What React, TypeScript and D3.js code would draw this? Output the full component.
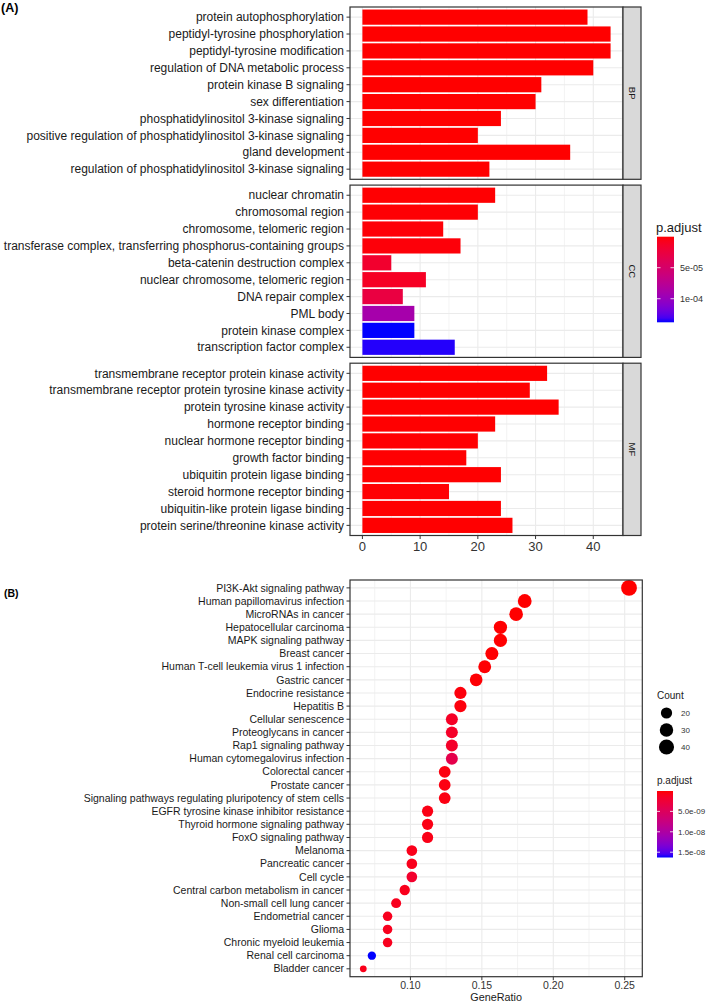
import React from "react";
import * as d3 from "d3";

const FONT = "'Liberation Sans', Arial, Helvetica, sans-serif";

// ---------- Panel A data ----------
const bpTerms = [
  "protein autophosphorylation",
  "peptidyl-tyrosine phosphorylation",
  "peptidyl-tyrosine modification",
  "regulation of DNA metabolic process",
  "protein kinase B signaling",
  "sex differentiation",
  "phosphatidylinositol 3-kinase signaling",
  "positive regulation of phosphatidylinositol 3-kinase signaling",
  "gland development",
  "regulation of phosphatidylinositol 3-kinase signaling",
];
const bpCounts = [39, 43, 43, 40, 31, 30, 24, 20, 36, 22];
const bpPadj = [2e-9, 1e-10, 1e-10, 3e-9, 5e-9, 6e-9, 8e-9, 1e-8, 7e-9, 1.2e-8];

const ccTerms = [
  "nuclear chromatin",
  "chromosomal region",
  "chromosome, telomeric region",
  "transferase complex, transferring phosphorus-containing groups",
  "beta-catenin destruction complex",
  "nuclear chromosome, telomeric region",
  "DNA repair complex",
  "PML body",
  "protein kinase complex",
  "transcription factor complex",
];
const ccCounts = [23, 20, 14, 17, 5, 11, 7, 9, 9, 16];
const ccPadj = [5e-7, 9e-7, 1.5e-6, 2e-6, 1.6e-5, 1.1e-5, 2.6e-5, 9e-5, 1.38e-4, 1.36e-4];

const mfTerms = [
  "transmembrane receptor protein kinase activity",
  "transmembrane receptor protein tyrosine kinase activity",
  "protein tyrosine kinase activity",
  "hormone receptor binding",
  "nuclear hormone receptor binding",
  "growth factor binding",
  "ubiquitin protein ligase binding",
  "steroid hormone receptor binding",
  "ubiquitin-like protein ligase binding",
  "protein serine/threonine kinase activity",
];
const mfCounts = [32, 29, 34, 23, 20, 18, 24, 15, 24, 26];
const mfPadj = [2e-8, 4e-8, 1e-8, 3e-7, 4e-7, 5e-7, 3e-7, 6e-7, 3e-7, 2e-7];

const facetNames = ["BP", "CC", "MF"];
const topXTicks = [0, 10, 20, 30, 40];
const topXMinor = [5, 15, 25, 35, 45];
const topLegendTicks = [5e-5, 1e-4];
const topLegendLabels = ["5e-05", "1e-04"];

// ---------- Panel B data ----------
const keggTerms = [
  "PI3K-Akt signaling pathway",
  "Human papillomavirus infection",
  "MicroRNAs in cancer",
  "Hepatocellular carcinoma",
  "MAPK signaling pathway",
  "Breast cancer",
  "Human T-cell leukemia virus 1 infection",
  "Gastric cancer",
  "Endocrine resistance",
  "Hepatitis B",
  "Cellular senescence",
  "Proteoglycans in cancer",
  "Rap1 signaling pathway",
  "Human cytomegalovirus infection",
  "Colorectal cancer",
  "Prostate cancer",
  "Signaling pathways regulating pluripotency of stem cells",
  "EGFR tyrosine kinase inhibitor resistance",
  "Thyroid hormone signaling pathway",
  "FoxO signaling pathway",
  "Melanoma",
  "Pancreatic cancer",
  "Cell cycle",
  "Central carbon metabolism in cancer",
  "Non-small cell lung cancer",
  "Endometrial cancer",
  "Glioma",
  "Chronic myeloid leukemia",
  "Renal cell carcinoma",
  "Bladder cancer",
];
const keggRatio = [
  0.253, 0.18, 0.174, 0.163, 0.163, 0.157, 0.152, 0.146, 0.135, 0.135,
  0.129, 0.129, 0.129, 0.129, 0.124, 0.124, 0.124, 0.112, 0.112, 0.112,
  0.101, 0.101, 0.101, 0.096, 0.09, 0.084, 0.084, 0.084, 0.073, 0.067,
];
const keggCounts = [
  45, 32, 31, 29, 29, 28, 27, 26, 24, 24, 23, 23, 23, 23, 22, 22, 22, 20, 20, 20,
  18, 18, 18, 17, 16, 15, 15, 15, 13, 12,
];
const keggPadj = [
  1e-12, 5e-12, 8e-12, 2e-11, 3e-11, 5e-11, 8e-11, 1e-10, 3e-10, 3e-10,
  1.4e-9, 1.5e-9, 1.6e-9, 3.8e-9, 4e-10, 5e-10, 5e-10, 6e-10, 6e-10, 7e-10,
  8e-10, 9e-10, 1.8e-9, 9e-10, 1e-9, 1e-9, 1e-9, 1e-9, 1.63e-8, 8e-10,
];
const bottomXTicks = [0.1, 0.15, 0.2, 0.25];
const bottomXLabels = ["0.10", "0.15", "0.20", "0.25"];
const bottomXMinor = [0.075, 0.125, 0.175, 0.225];
const countLegend = [20, 30, 40];
const bottomLegendTicks = [5e-9, 1e-8, 1.5e-8];
const bottomLegendLabels = ["5.0e-09", "1.0e-08", "1.5e-08"];

const GRID = "#ebebeb";
const BORDER = "#333333";
const TXT = "#1a1a1a";

export default function App() {
  // ---------------- Panel A ----------------
  const facets = [
    { name: facetNames[0], terms: bpTerms, counts: bpCounts, padj: bpPadj },
    { name: facetNames[1], terms: ccTerms, counts: ccCounts, padj: ccPadj },
    { name: facetNames[2], terms: mfTerms, counts: mfCounts, padj: mfPadj },
  ];
  const allCounts = [...bpCounts, ...ccCounts, ...mfCounts];
  const allPadj = [...bpPadj, ...ccPadj, ...mfPadj];
  const cMax = d3.max(allCounts) as number;
  const aX0 = 350, aX1 = 623, stripW = 18;
  const xA = d3.scaleLinear().domain([-0.05 * cMax, cMax * 1.05]).range([aX0, aX1]);
  const pMinA = d3.min(allPadj) as number;
  const pMaxA = d3.max(allPadj) as number;
  const colA = d3.scaleLinear<string>().domain([pMinA, pMaxA]).range(["red", "blue"]).interpolate(d3.interpolateLab);
  const panelTop = 7, panelH = 172.3, gap = 5.8;

  const legAX = 657, legAW = 17, legATop = 236.7, legABot = 322.3;
  const legAScale = d3.scaleLinear().domain([pMinA, pMaxA]).range([legATop, legABot]);
  const stopsA = d3.range(0, 1.0001, 0.05);

  // ---------------- Panel B ----------------
  const rMin = d3.min(keggRatio) as number;
  const rMax = d3.max(keggRatio) as number;
  const rPad = (rMax - rMin) * 0.05;
  const bX0 = 350, bX1 = 642.3, bY0 = 580, bY1 = 976.7;
  const xB = d3.scaleLinear().domain([rMin - rPad, rMax + rPad]).range([bX0, bX1]);
  const yB = d3.scalePoint<string>().domain(keggTerms).range([bY0, bY1]).padding(0.6);
  const kMin = d3.min(keggCounts) as number;
  const kMax = d3.max(keggCounts) as number;
  const rScale = d3.scaleSqrt().domain([0, kMax - kMin]).range([3.4, 7.9]);
  const radius = (c: number) => rScale(Math.max(0, c - kMin));
  const pMinB = d3.min(keggPadj) as number;
  const pMaxB = d3.max(keggPadj) as number;
  const colB = d3.scaleLinear<string>().domain([pMinB, pMaxB]).range(["red", "blue"]).interpolate(d3.interpolateLab);
  const legBX = 657, legBW = 16, legBTop = 791, legBBot = 857.5;
  const legBScale = d3.scaleLinear().domain([pMinB, pMaxB]).range([legBTop, legBBot]);
  const countKeyY = d3.scalePoint<number>().domain(countLegend).range([713, 747]);

  return (
    <svg
      width={709}
      height={1004}
      style={{ position: "absolute", left: 0, top: 0, background: "#fff" }}
      fontFamily={FONT}
    >
      <defs>
        <linearGradient id="gradA" x1="0" y1="0" x2="0" y2="1">
          {stopsA.map((t, i) => (
            <stop key={i} offset={t} stopColor={colA(pMinA + t * (pMaxA - pMinA))} />
          ))}
        </linearGradient>
        <linearGradient id="gradB" x1="0" y1="0" x2="0" y2="1">
          {stopsA.map((t, i) => (
            <stop key={i} offset={t} stopColor={colB(pMinB + t * (pMaxB - pMinB))} />
          ))}
        </linearGradient>
      </defs>
      <rect x={0} y={0} width={709} height={1004} fill="#fff" />

      {/* ===== Panel A ===== */}
      <text x={1} y={12} fontSize={12.5} fontWeight="bold" fill="#000">(A)</text>
      {facets.map((f, fi) => {
        const top = panelTop + fi * (panelH + gap);
        const bot = top + panelH;
        const yBand = d3.scaleBand<string>().domain(f.terms).range([top, bot]).paddingInner(0.1).paddingOuter(0.15);
        const center = (t: string) => (yBand(t) as number) + yBand.bandwidth() / 2;
        return (
          <g key={f.name}>
            <rect x={aX0} y={top} width={aX1 - aX0} height={panelH} fill="#fff" />
            {topXMinor.map((v) => (
              <line key={"m" + v} x1={xA(v)} x2={xA(v)} y1={top} y2={bot} stroke={GRID} strokeWidth={0.6} />
            ))}
            {topXTicks.map((v) => (
              <line key={"M" + v} x1={xA(v)} x2={xA(v)} y1={top} y2={bot} stroke={GRID} strokeWidth={1.1} />
            ))}
            {f.terms.map((t) => (
              <line key={"h" + t} x1={aX0} x2={aX1} y1={center(t)} y2={center(t)} stroke={GRID} strokeWidth={1.1} />
            ))}
            {f.terms.map((t, i) => (
              <rect
                key={"b" + t}
                x={xA(0)}
                y={yBand(t)}
                width={xA(f.counts[i]) - xA(0)}
                height={yBand.bandwidth()}
                fill={colA(f.padj[i])}
              />
            ))}
            <rect x={aX0} y={top} width={aX1 - aX0} height={panelH} fill="none" stroke={BORDER} strokeWidth={1.2} />
            {f.terms.map((t) => (
              <g key={"l" + t}>
                <line x1={346.5} x2={aX0} y1={center(t)} y2={center(t)} stroke={BORDER} strokeWidth={1} />
                <text x={344} y={center(t)} dy="0.35em" textAnchor="end" fontSize={12} fill={TXT}>
                  {t}
                </text>
              </g>
            ))}
            <rect x={aX1} y={top} width={stripW} height={panelH} fill="#d9d9d9" stroke={BORDER} strokeWidth={1.2} />
            <text
              transform={`translate(${aX1 + stripW / 2},${(top + bot) / 2}) rotate(90)`}
              textAnchor="middle"
              dy="0.35em"
              fontSize={9.5}
              fill={TXT}
            >
              {f.name}
            </text>
          </g>
        );
      })}
      {/* x axis A */}
      {topXTicks.map((v) => {
        const yb = panelTop + 3 * panelH + 2 * gap;
        return (
          <g key={"xa" + v}>
            <line x1={xA(v)} x2={xA(v)} y1={yb} y2={yb + 3.5} stroke={BORDER} strokeWidth={1} />
            <text x={xA(v)} y={yb + 15} textAnchor="middle" fontSize={13} fill="#333">
              {v}
            </text>
          </g>
        );
      })}
      {/* legend A */}
      <text x={656} y={231.5} fontSize={13} fill={TXT}>p.adjust</text>
      <rect x={legAX} y={legATop} width={legAW} height={legABot - legATop} fill="url(#gradA)" />
      {topLegendTicks.map((v, i) => (
        <g key={"la" + v}>
          <line x1={legAX} x2={legAX + 3.5} y1={legAScale(v)} y2={legAScale(v)} stroke="#fff" strokeWidth={1} opacity={0.8} />
          <line x1={legAX + legAW - 3.5} x2={legAX + legAW} y1={legAScale(v)} y2={legAScale(v)} stroke="#fff" strokeWidth={1} opacity={0.8} />
          <text x={legAX + legAW + 6} y={legAScale(v)} dy="0.35em" fontSize={9} fill="#333">
            {topLegendLabels[i]}
          </text>
        </g>
      ))}

      {/* ===== Panel B ===== */}
      <text x={4} y={597} fontSize={10.5} fontWeight="bold" fill="#000">(B)</text>
      <rect x={bX0} y={bY0} width={bX1 - bX0} height={bY1 - bY0} fill="#fff" />
      {bottomXMinor.map((v) => (
        <line key={"bm" + v} x1={xB(v)} x2={xB(v)} y1={bY0} y2={bY1} stroke={GRID} strokeWidth={0.6} />
      ))}
      {bottomXTicks.map((v) => (
        <line key={"bM" + v} x1={xB(v)} x2={xB(v)} y1={bY0} y2={bY1} stroke={GRID} strokeWidth={1.1} />
      ))}
      {keggTerms.map((t) => (
        <line key={"bh" + t} x1={bX0} x2={bX1} y1={yB(t)} y2={yB(t)} stroke={GRID} strokeWidth={1.1} />
      ))}
      {keggTerms.map((t, i) => (
        <circle key={"pt" + t} cx={xB(keggRatio[i])} cy={yB(t)} r={radius(keggCounts[i])} fill={colB(keggPadj[i])} />
      ))}
      <rect x={bX0} y={bY0} width={bX1 - bX0} height={bY1 - bY0} fill="none" stroke={BORDER} strokeWidth={1.2} />
      {keggTerms.map((t) => (
        <g key={"bl" + t}>
          <line x1={346.5} x2={bX0} y1={yB(t)} y2={yB(t)} stroke={BORDER} strokeWidth={1} />
          <text x={344} y={yB(t)} dy="0.35em" textAnchor="end" fontSize={10.5} fill={TXT}>
            {t}
          </text>
        </g>
      ))}
      {bottomXTicks.map((v, i) => (
        <g key={"bx" + v}>
          <line x1={xB(v)} x2={xB(v)} y1={bY1} y2={bY1 + 3.5} stroke={BORDER} strokeWidth={1} />
          <text x={xB(v)} y={bY1 + 12} textAnchor="middle" fontSize={10.5} fill="#333">
            {bottomXLabels[i]}
          </text>
        </g>
      ))}
      <text x={(bX0 + bX1) / 2} y={1001} textAnchor="middle" fontSize={10.8} fill={TXT}>GeneRatio</text>

      {/* legend B: Count */}
      <text x={657} y={698.5} fontSize={10} fill={TXT}>Count</text>
      {countLegend.map((c) => (
        <g key={"cl" + c}>
          <circle cx={666.5} cy={countKeyY(c)} r={radius(c)} fill="#000" />
          <text x={681} y={countKeyY(c)} dy="0.35em" fontSize={8} fill="#333">
            {c}
          </text>
        </g>
      ))}
      {/* legend B: p.adjust */}
      <text x={657} y={784} fontSize={10} fill={TXT}>p.adjust</text>
      <rect x={legBX} y={legBTop} width={legBW} height={legBBot - legBTop} fill="url(#gradB)" />
      {bottomLegendTicks.map((v, i) => (
        <g key={"lb" + v}>
          <line x1={legBX} x2={legBX + 3} y1={legBScale(v)} y2={legBScale(v)} stroke="#fff" strokeWidth={1} opacity={0.8} />
          <line x1={legBX + legBW - 3} x2={legBX + legBW} y1={legBScale(v)} y2={legBScale(v)} stroke="#fff" strokeWidth={1} opacity={0.8} />
          <text x={legBX + legBW + 5} y={legBScale(v)} dy="0.35em" fontSize={8} fill="#333">
            {bottomLegendLabels[i]}
          </text>
        </g>
      ))}
    </svg>
  );
}
